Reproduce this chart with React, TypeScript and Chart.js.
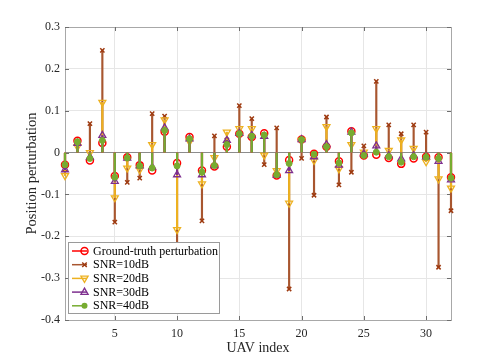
import React, { useEffect, useRef } from 'react';
import { Chart, registerables } from 'chart.js';

Chart.register(...registerables);

const uavIndex = [1, 2, 3, 4, 5, 6, 7, 8, 9, 10, 11, 12, 13, 14, 15, 16, 17, 18, 19, 20, 21, 22, 23, 24, 25, 26, 27, 28, 29, 30, 31, 32];
const xTickValues = [5, 10, 15, 20, 25, 30];
const yTickValues = [-0.4, -0.3, -0.2, -0.1, 0, 0.1, 0.2, 0.3];
const seriesLabels = ['Ground-truth perturbation', 'SNR=10dB', 'SNR=20dB', 'SNR=30dB', 'SNR=40dB'];

const groundTruth = [-0.029, 0.028, -0.019, 0.023, -0.056, -0.011, -0.030, -0.043, 0.050, -0.025, 0.037, -0.043, -0.033, 0.014, 0.045, 0.037, 0.046, -0.055, -0.018, 0.031, -0.003, 0.014, -0.021, 0.051, -0.007, -0.005, -0.013, -0.027, -0.014, -0.010, -0.011, -0.059];
const snr10 = [-0.040, 0.025, 0.069, 0.244, -0.166, -0.071, -0.061, 0.093, 0.087, -0.300, 0.030, -0.163, 0.040, 0.030, 0.112, 0.081, -0.029, 0.059, -0.326, -0.014, -0.102, 0.085, -0.077, -0.047, 0.016, 0.170, 0.066, 0.045, 0.066, 0.049, -0.274, -0.139];
const snr20 = [-0.055, 0.014, 0.000, 0.120, -0.108, -0.037, -0.041, 0.019, 0.078, -0.184, 0.026, -0.075, -0.012, 0.049, 0.057, 0.057, -0.006, -0.043, -0.121, 0.029, -0.019, 0.062, -0.039, 0.019, 0.001, 0.057, 0.005, 0.030, 0.010, -0.022, -0.063, -0.085];
const snr30 = [-0.041, 0.022, -0.011, 0.041, -0.069, -0.013, -0.032, -0.035, 0.059, -0.053, 0.033, -0.053, -0.031, 0.029, 0.046, 0.041, 0.039, -0.054, -0.043, 0.031, -0.010, 0.019, -0.030, 0.049, -0.003, 0.016, -0.007, -0.015, -0.007, -0.010, -0.021, -0.065];
const snr40 = [-0.029, 0.026, -0.014, 0.029, -0.059, -0.013, -0.032, -0.037, 0.053, -0.032, 0.033, -0.047, -0.031, 0.019, 0.045, 0.039, 0.042, -0.053, -0.026, 0.031, -0.004, 0.014, -0.025, 0.047, -0.007, 0.001, -0.010, -0.023, -0.010, -0.011, -0.014, -0.061];

const SERIF = "'Liberation Serif', 'Times New Roman', serif";

type Style = { color: string; stem: string; pointStyle: any; rotation: number; radius: number; filled: boolean; bw: number };
const styles: Style[] = [
  { color: '#FF0000', stem: '#FF0000', pointStyle: 'circle', rotation: 0, radius: 3.5, filled: false, bw: 1.5 },
  { color: '#9E3A10', stem: '#A8562F', pointStyle: 'crossRot', rotation: 0, radius: 3, filled: false, bw: 1.5 },
  { color: '#EDB120', stem: '#EDB120', pointStyle: 'triangle', rotation: 180, radius: 4, filled: false, bw: 1.3 },
  { color: '#7E2F8E', stem: '#7E2F8E', pointStyle: 'triangle', rotation: 0, radius: 4, filled: false, bw: 1.3 },
  { color: '#77AC30', stem: '#77AC30', pointStyle: 'circle', rotation: 0, radius: 3, filled: true, bw: 1 },
];
const seriesValues = [groundTruth, snr10, snr20, snr30, snr40];

function drawMarker(ctx: CanvasRenderingContext2D, s: Style, x: number, y: number) {
  ctx.save();
  ctx.strokeStyle = s.color;
  ctx.fillStyle = s.color;
  ctx.lineWidth = s.bw;
  ctx.beginPath();
  const r = s.radius;
  if (s.pointStyle === 'circle') {
    ctx.arc(x, y, r, 0, Math.PI * 2);
    if (s.filled) ctx.fill(); else ctx.stroke();
  } else if (s.pointStyle === 'crossRot') {
    const d = r * 0.75;
    ctx.moveTo(x - d, y - d); ctx.lineTo(x + d, y + d);
    ctx.moveTo(x + d, y - d); ctx.lineTo(x - d, y + d);
    ctx.stroke();
  } else {
    const dir = s.rotation === 180 ? 1 : -1;
    ctx.moveTo(x, y + dir * r);
    ctx.lineTo(x - r * 0.9, y - dir * r * 0.55);
    ctx.lineTo(x + r * 0.9, y - dir * r * 0.55);
    ctx.closePath();
    ctx.stroke();
  }
  ctx.restore();
}

const framePlugin = {
  id: 'frame',
  beforeDatasetsDraw(chart: any) {
    const { ctx, chartArea, scales } = chart;
    const { left, right, top, bottom } = chartArea;
    ctx.save();
    ctx.strokeStyle = '#a8a8a8';
    ctx.lineWidth = 1;
    ctx.strokeRect(Math.round(left) + 0.5, Math.round(top) + 0.5, Math.round(right - left), Math.round(bottom - top));
    ctx.strokeStyle = '#6e6e6e';
    ctx.beginPath();
    for (const v of xTickValues) {
      const px = Math.round(scales.x.getPixelForValue(v)) + 0.5;
      ctx.moveTo(px, bottom); ctx.lineTo(px, bottom - 4);
      ctx.moveTo(px, top); ctx.lineTo(px, top + 4);
    }
    for (const v of yTickValues) {
      const py = Math.round(scales.y.getPixelForValue(v)) + 0.5;
      ctx.moveTo(left, py); ctx.lineTo(left + 4, py);
      ctx.moveTo(right, py); ctx.lineTo(right - 4, py);
    }
    ctx.stroke();
    ctx.restore();
  },
  afterDraw(chart: any) {
    const { ctx } = chart;
    const bx = 68, by = 242, bw = 151, bh = 71;
    ctx.save();
    ctx.fillStyle = '#ffffff';
    ctx.fillRect(bx, by, bw, bh);
    ctx.strokeStyle = '#9a9a9a';
    ctx.lineWidth = 1;
    ctx.strokeRect(bx + 0.5, by + 0.5, bw, bh);
    ctx.font = `12px ${SERIF}`;
    ctx.textBaseline = 'middle';
    ctx.textAlign = 'left';
    seriesLabels.forEach((label, k) => {
      const y = by + 9 + k * 13.7;
      const s = styles[k];
      ctx.strokeStyle = s.stem;
      ctx.lineWidth = 1.5;
      ctx.beginPath();
      ctx.moveTo(72, y); ctx.lineTo(87, y);
      ctx.stroke();
      drawMarker(ctx, s, 84.5, y);
      ctx.fillStyle = '#000000';
      ctx.fillText(label, 93, y + 0.5);
    });
    ctx.restore();
  },
};

export default function App() {
  const ref = useRef<HTMLCanvasElement | null>(null);
  useEffect(() => {
    if (!ref.current) return;
    const datasets: any[] = [];
    seriesValues.forEach((vals, k) => {
      const s = styles[k];
      const pts = vals.map((v, i) => ({ x: uavIndex[i], y: v }));
      datasets.push({
        type: 'bar',
        label: seriesLabels[k] + ' stem',
        data: pts,
        backgroundColor: s.stem,
        borderWidth: 0,
        barThickness: 1.5,
        grouped: false,
        clip: false,
        order: 100 - 2 * k,
      });
      datasets.push({
        type: 'line',
        label: seriesLabels[k],
        data: pts,
        showLine: false,
        clip: false,
        pointStyle: s.pointStyle,
        pointRotation: s.rotation,
        pointRadius: s.radius,
        pointBorderWidth: s.bw,
        pointBorderColor: s.color,
        pointBackgroundColor: s.filled ? s.color : 'rgba(0,0,0,0)',
        order: 99 - 2 * k,
      });
    });
    const chart = new Chart(ref.current, {
      type: 'bar',
      data: { datasets },
      plugins: [framePlugin],
      options: {
        animation: false,
        responsive: true,
        maintainAspectRatio: false,
        layout: { padding: { left: 0, top: 27, right: 47, bottom: 0 } },
        plugins: { legend: { display: false }, tooltip: { enabled: false } },
        scales: {
          x: {
            type: 'linear',
            min: 1,
            max: 32,
            offset: false,
            afterBuildTicks: (scale: any) => { scale.ticks = xTickValues.map((v) => ({ value: v })); },
            afterFit: (scale: any) => { scale.height = 39; },
            grid: { color: '#e6e6e6', drawTicks: false, offset: false },
            border: { display: false },
            ticks: { color: '#262626', font: { family: SERIF, size: 12 }, padding: 7, maxRotation: 0, autoSkip: false },
            title: { display: true, text: 'UAV index', color: '#262626', font: { family: SERIF, size: 14 }, padding: { top: 0, bottom: 2 } },
          },
          y: {
            type: 'linear',
            min: -0.4,
            max: 0.3,
            afterBuildTicks: (scale: any) => { scale.ticks = yTickValues.map((v) => ({ value: v })); },
            afterFit: (scale: any) => { scale.width = 65; },
            grid: {
              color: (c: any) => (c.tick && Math.abs(c.tick.value) < 1e-9 ? '#8c8c8c' : '#e6e6e6'),
              drawTicks: false,
            },
            border: { display: false },
            ticks: {
              color: '#262626',
              font: { family: SERIF, size: 12 },
              padding: 5,
              autoSkip: false,
              callback: (v: any) => (Math.abs(v) < 1e-9 ? '0' : Number(v).toFixed(1)),
            },
            title: { display: true, text: 'Position perturbation', color: '#262626', font: { family: SERIF, size: 14.5 }, padding: { top: 23, bottom: 0 } },
          },
        },
      } as any,
    });
    return () => chart.destroy();
  }, []);
  return (
    <div style={{ position: 'absolute', left: 0, top: 0, width: 498, height: 359, background: '#fff' }}>
      <canvas ref={ref} />
    </div>
  );
}
